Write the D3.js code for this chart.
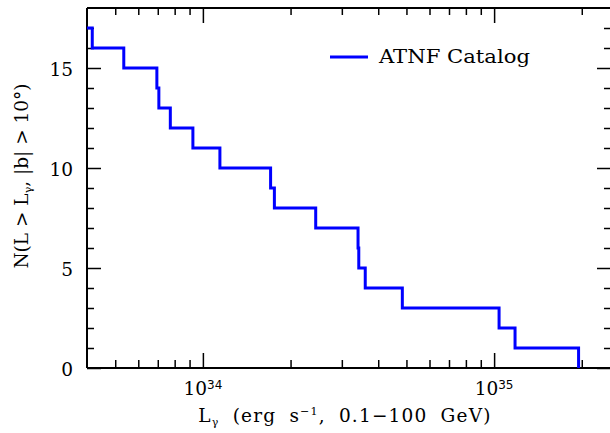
<!DOCTYPE html>
<html>
<head>
<meta charset="utf-8">
<script src="https://cdn.jsdelivr.net/npm/d3@7"></script>
<style>
    body { margin: 0; background: #fff; }
    svg { display: block; }
    text { font-family: 'DejaVu Serif', serif; fill: #000; }
</style>
</head>
<body>
<svg id="chart" width="610" height="433"></svg>
<script>
// pulsar luminosities (erg/s) where the cumulative count drops by one
const luminosities = [4.17e33, 5.35e33, 6.95e33, 7.06e33, 7.73e33, 9.24e33, 1.144e34,
    1.708e34, 1.76e34, 2.44e34, 3.41e34, 3.43e34, 3.61e34, 4.84e34, 1.04e35, 1.18e35, 1.95e35];
// N(L > L_gamma) just after each of those luminosities
const counts = [16, 15, 14, 13, 12, 11, 10, 9, 8, 7, 6, 5, 4, 3, 2, 1, 0];
const startCount = 17;
const seriesName = 'ATNF Catalog';

const xDomain = [4e33, 2.5e35];
const yDomain = [0, 18];
const majorX = [1e34, 1e35];
const majorXExponents = ['34', '35'];
const minorX = [5e33, 6e33, 7e33, 8e33, 9e33, 2e34, 3e34, 4e34, 5e34, 6e34, 7e34, 8e34, 9e34, 2e35];
const majorY = [0, 5, 10, 15];
const minorY = [1, 2, 3, 4, 6, 7, 8, 9, 11, 12, 13, 14, 16, 17];

(function () {
    const margin = {top: 8, right: 0, bottom: 65, left: 87};
    const width = 610 - margin.left - margin.right;
    const height = 433 - margin.top - margin.bottom;

    const svg = d3.select('#chart');
    const g = svg.append('g')
        .attr('transform', `translate(${margin.left},${margin.top})`);

    const x = d3.scaleLog().domain(xDomain).range([0, width]);
    const y = d3.scaleLinear().domain(yDomain).range([height, 0]);

    // ticks, all pointing into the box
    function tickGroup(axis, transform) {
        const sel = g.append('g')
            .attr('transform', transform)
            .call(axis);
        sel.select('.domain').remove();
        sel.selectAll('text').remove();
        sel.selectAll('line').attr('stroke', '#000').attr('stroke-width', 1.5);
        return sel;
    }

    tickGroup(d3.axisBottom(x).tickValues(majorX).tickSize(-15), `translate(0,${height})`);
    tickGroup(d3.axisBottom(x).tickValues(minorX).tickSize(-8), `translate(0,${height})`);
    tickGroup(d3.axisTop(x).tickValues(majorX).tickSize(-15), 'translate(0,0)');
    tickGroup(d3.axisTop(x).tickValues(minorX).tickSize(-7), 'translate(0,0)');
    tickGroup(d3.axisLeft(y).tickValues(majorY).tickSize(-14), 'translate(0,0)');
    tickGroup(d3.axisLeft(y).tickValues(minorY).tickSize(-7), 'translate(0,0)');
    tickGroup(d3.axisRight(y).tickValues(majorY).tickSize(-13), `translate(${width},0)`);
    tickGroup(d3.axisRight(y).tickValues(minorY).tickSize(-6), `translate(${width},0)`);

    // frame
    const frame = g.append('g').attr('stroke', '#000').attr('stroke-width', 2);
    frame.append('line').attr('x1', 0).attr('x2', width).attr('y1', 0).attr('y2', 0);
    frame.append('line').attr('x1', 0).attr('x2', 0).attr('y1', 0).attr('y2', height);
    frame.append('line').attr('x1', 0).attr('x2', width).attr('y1', height).attr('y2', height);

    // tick labels
    g.append('g').selectAll('text')
        .data(majorY)
        .enter().append('text')
        .attr('x', -14)
        .attr('y', (d) => y(d) + 7.5)
        .attr('text-anchor', 'end')
        .style('font-size', '18.5px')
        .text((d) => d);

    const xLabels = g.append('g').selectAll('text')
        .data(majorX)
        .enter().append('text')
        .attr('x', (d) => x(d))
        .attr('y', height + 27)
        .attr('text-anchor', 'middle')
        .style('font-size', '18.5px');
    xLabels.append('tspan').text('10');
    xLabels.append('tspan')
        .attr('dy', -6)
        .style('font-size', '12px')
        .style('font-family', "'DejaVu Sans', sans-serif")
        .text((d, i) => majorXExponents[i]);

    // step curve
    svg.append('clipPath').attr('id', 'plot-clip')
        .append('rect').attr('width', width).attr('height', height + 2).attr('y', -1);

    const points = [[xDomain[0], startCount]].concat(luminosities.map((d, i) => [d, counts[i]]));
    const line = d3.line()
        .x((d) => x(d[0]))
        .y((d) => y(d[1]))
        .curve(d3.curveStepAfter);

    g.append('path')
        .datum(points)
        .attr('clip-path', 'url(#plot-clip)')
        .attr('fill', 'none')
        .attr('stroke', '#0000ff')
        .attr('stroke-width', 3)
        .attr('stroke-linejoin', 'miter')
        .attr('d', line);

    // legend
    const legend = g.append('g').attr('transform', 'translate(243,49)');
    legend.append('line')
        .attr('x1', 0).attr('x2', 38)
        .attr('stroke', '#0000ff')
        .attr('stroke-width', 3);
    legend.append('text')
        .attr('x', 49)
        .attr('y', 6)
        .style('font-size', '19px')
        .attr('textLength', 151)
        .attr('lengthAdjust', 'spacingAndGlyphs')
        .text(seriesName);

    // axis titles
    const xTitle = svg.append('text')
        .attr('x', 345)
        .attr('y', 422)
        .attr('text-anchor', 'middle')
        .style('font-size', '18.5px')
        .style('letter-spacing', '1.2px')
        .style('word-spacing', '6px');
    xTitle.append('tspan').text('L');
    xTitle.append('tspan').attr('dy', 4).style('font-size', '11px').text('γ');
    xTitle.append('tspan').attr('dy', -4).text(' (erg s');
    xTitle.append('tspan').attr('dy', -7).style('font-size', '11px').text('−1');
    xTitle.append('tspan').attr('dy', 7).text(', 0.1−100 GeV)');

    const yTitle = svg.append('text')
        .attr('transform', 'translate(28,176) rotate(-90)')
        .attr('text-anchor', 'middle')
        .style('font-size', '18.5px');
    yTitle.append('tspan').text('N(L > L');
    yTitle.append('tspan').attr('dy', 4).style('font-size', '11px').text('γ');
    yTitle.append('tspan').attr('dy', -4).text(', |b| > 10°)');
})();
</script>
</body>
</html>
